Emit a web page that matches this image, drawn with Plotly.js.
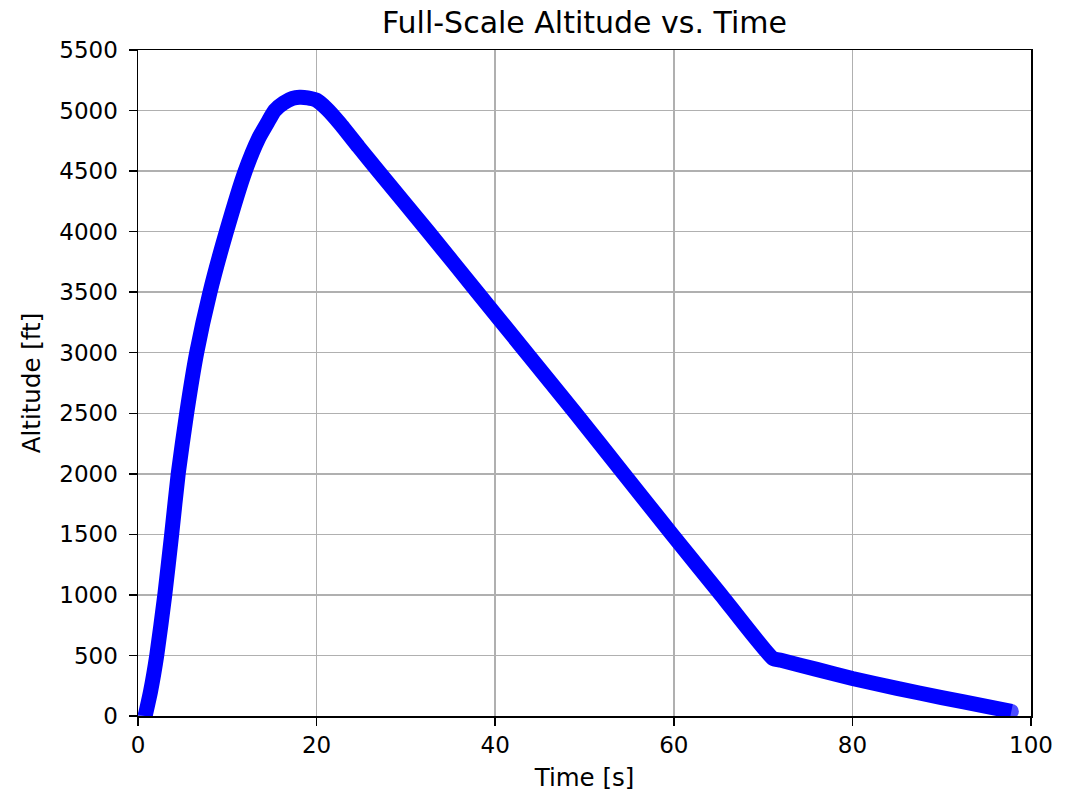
<!DOCTYPE html>
<html>
<head>
<meta charset="utf-8">
<script src="https://cdn.plot.ly/plotly-3.0.1.min.js"></script>
<style>html,body{margin:0;padding:0;background:#fff;}#chart{width:1076px;height:792px;}</style>
</head>
<body>
<div id="chart"></div>
<script>
// Time [s]
const timeS = [0.8, 1.4, 2.1, 3.0, 3.77, 4.5, 5.45, 6.57, 8.06, 9.9, 12.0, 13.5, 14.5, 15.3, 16.3, 17.3, 18.1, 19.0, 20.0, 21.2, 22.6, 24.7, 26.9, 32.5, 38.0, 43.5, 49.0, 54.4, 59.8, 65.3, 71.1, 72.0, 76.0, 80.0, 85.0, 90.0, 95.0, 97.8];
// Altitude [ft]
const altitudeFt = [0, 200, 500, 1000, 1500, 2000, 2500, 3000, 3500, 4000, 4500, 4770, 4900, 5000, 5062, 5100, 5110, 5105, 5085, 5010, 4894, 4700, 4500, 4000, 3500, 3000, 2500, 2000, 1500, 1000, 476, 460, 385, 310, 228, 152, 80, 38];

const titleText = 'Full-Scale Altitude vs. Time';
const xTitle = 'Time [s]';
const yTitle = 'Altitude [ft]';

const fontFam = 'DejaVu Sans, sans-serif';
const axisCommon = {
  showline: true, mirror: true, linecolor: '#000', linewidth: 1.5,
  ticks: 'outside', ticklen: 8, tickwidth: 1.5, tickcolor: '#000',
  showgrid: true, gridcolor: '#b0b0b0', gridwidth: 1.5,
  zeroline: false,
  tickfont: {family: fontFam, size: 23, color: '#000'}
};

const endMarks = timeS.map((t, i) => (i === 0 || i === timeS.length - 1) ? 15 : 0);

const trace = {
  x: timeS, y: altitudeFt, type: 'scatter', mode: 'lines+markers',
  line: {color: '#0000ff', width: 15, shape: 'spline', smoothing: 0.5},
  marker: {color: '#0000ff', size: endMarks, line: {width: 0}},
  cliponaxis: true,
  hoverinfo: 'skip'
};

const layout = {
  width: 1076, height: 792,
  margin: {l: 138, r: 45, t: 50, b: 76},
  paper_bgcolor: '#fff', plot_bgcolor: '#fff',
  showlegend: false,
  title: {text: titleText, font: {family: fontFam, size: 30, color: '#000'}, x: 0.5432, xanchor: 'center', y: 0.972, yanchor: 'middle', yref: 'container'},
  xaxis: Object.assign({}, axisCommon, {range: [0, 100], dtick: 20, tick0: 0, ticklabelstandoff: 0,
    title: {text: xTitle, font: {family: fontFam, size: 24.5, color: '#000'}, standoff: 13}}),
  yaxis: Object.assign({}, axisCommon, {range: [0, 5500], dtick: 500, tick0: 0, ticklabelstandoff: 6,
    title: {text: yTitle, font: {family: fontFam, size: 24.5, color: '#000'}, standoff: 12}})
};

Plotly.newPlot('chart', [trace], layout, {displayModeBar: false, staticPlot: true});
</script>
</body>
</html>
